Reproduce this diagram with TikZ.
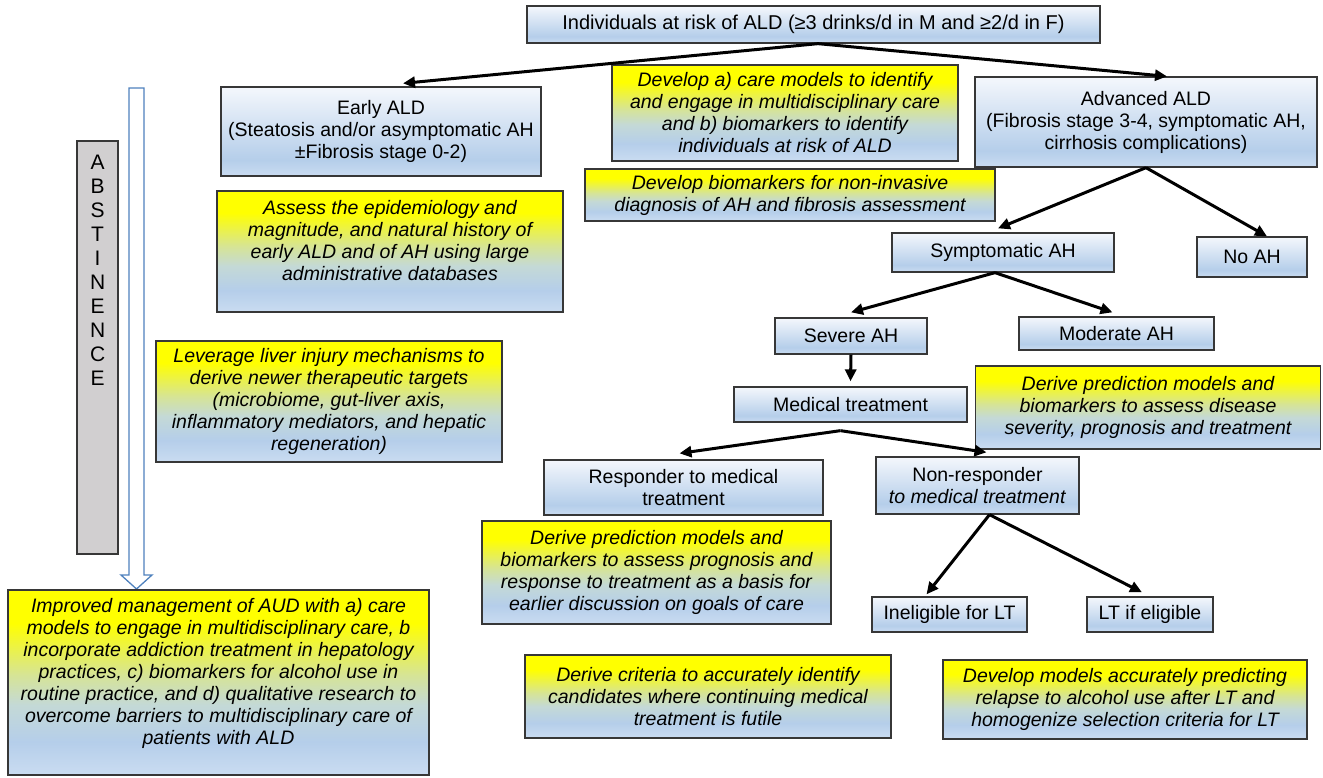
\documentclass[tikz,border=0pt]{standalone}
\usepackage{fontspec}
\setmainfont{Liberation Sans}
\usetikzlibrary{arrows.meta,calc}

\definecolor{bxtop}{RGB}{244,247,252}
\definecolor{bxmid}{RGB}{181,206,234}
\definecolor{bxlow}{RGB}{202,220,241}
\definecolor{ylwtop}{RGB}{255,255,0}
\definecolor{ylwmid}{RGB}{214,228,150}
\definecolor{ylwblu}{RGB}{196,217,214}
\definecolor{bordergray}{RGB}{55,55,55}
\definecolor{absgray}{RGB}{209,207,208}
\definecolor{hollowblue}{RGB}{79,129,189}

\pgfdeclareverticalshading{blueshade}{100bp}{color(0bp)=(bxlow); color(25bp)=(bxlow); color(34bp)=(bxmid); color(75bp)=(bxtop); color(100bp)=(bxtop)}
\pgfdeclareverticalshading{yellowshade}{100bp}{color(0bp)=(bxlow); color(25bp)=(bxlow); color(34bp)=(bxmid); color(44bp)=(ylwblu); color(52bp)=(ylwmid); color(66bp)=(ylwtop); color(100bp)=(ylwtop)}

\tikzset{
  box/.style={draw=bordergray, line width=1.3pt, shade, shading=blueshade,
    align=center, inner sep=2pt, font=\fontsize{19.5}{22}\selectfont},
  idea/.style={box, shading=yellowshade, font=\fontsize{19.5}{22}\selectfont\itshape},
  flow/.style={-{Triangle[length=12pt,width=11pt]}, line width=3pt},
}

\begin{document}
\begin{tikzpicture}[x=1pt,y=-1pt]
   \useasboundingbox (0,0) rectangle (1323,777);

   % abstinence column
   \node[draw=bordergray, line width=1.3pt, fill=absgray, minimum width=41, minimum height=413] (abst) at (97.5,347.5) {};
   \node[align=center, font=\fontsize{21}{24}\selectfont] (abstword) at (97.6,270) {A\\B\\S\\T\\I\\N\\E\\N\\C\\E};
   \draw[hollowblue, line width=1.3pt, fill=white] (129,88) -- (144,88) -- (144,575) -- (152,575)
        -- (136.5,589) -- (121,575) -- (129,575) -- cycle;

   % disease course
   \node[box, minimum width=573, minimum height=37, font=\fontsize{20}{22}\selectfont] (risk) at (813.5,24.5)
        {Individuals at risk of ALD (≥3 drinks/d in M and ≥2/d in F)};
   \node[box, minimum width=320, minimum height=89] (early) at (381,131.5)
        {Early ALD\\(Steatosis and/or asymptomatic AH\\±Fibrosis stage 0-2)};
   \node[box, minimum width=342, minimum height=90] (adv) at (1146,122)
        {Advanced ALD\\(Fibrosis stage 3-4, symptomatic AH,\\cirrhosis complications)};
   \node[box, minimum width=222, minimum height=39] (symp) at (1003,252.5) {Symptomatic AH};
   \node[box, minimum width=110, minimum height=40] (noah) at (1252,257) {No AH};
   \node[box, minimum width=152, minimum height=36] (severe) at (851,336) {Severe AH};
   \node[box, minimum width=195, minimum height=33] (moderate) at (1116.5,333.5) {Moderate AH};
   \node[box, minimum width=233, minimum height=35] (medical) at (850.5,404.5) {Medical treatment};
   \node[box, minimum width=279, minimum height=55] (responder) at (683.5,487.5)
        {Responder to medical\\treatment};
   \node[box, minimum width=203, minimum height=57] (nonresp) at (977.5,485.5)
        {Non-responder\\\textit{to medical treatment}};
   \node[box, minimum width=155, minimum height=35] (inelig) at (949.5,614.5) {Ineligible for LT};
   \node[box, minimum width=126, minimum height=35] (ltelig) at (1150,614.5) {LT if eligible};

   % research priorities
   \node[idea, minimum width=346, minimum height=96] (devcare) at (785,113)
        {Develop a) care models to identify\\and engage in multidisciplinary care\\and b) biomarkers to identify\\individuals at risk of ALD};
   \node[idea, minimum width=410, minimum height=52] (devbio) at (790,195)
        {Develop biomarkers for non-invasive\\diagnosis of AH and fibrosis assessment};
   \node[idea, minimum width=346, minimum height=121] (assess) at (390,251.5)
        {Assess the epidemiology and\\magnitude, and natural history of\\early ALD and of AH using large\\administrative databases\\\mbox{}};
   \node[idea, minimum width=346, minimum height=121] (leverage) at (329,401.5)
        {Leverage liver injury mechanisms to\\derive newer therapeutic targets\\(microbiome, gut-liver axis,\\inflammatory mediators, and hepatic\\regeneration)};
   \node[idea, minimum width=421, minimum height=185] (improved) at (218.5,682.5)
        {Improved management of AUD with a) care\\models to engage in multidisciplinary care, b\\incorporate addiction treatment in hepatology\\practices, c) biomarkers for alcohol use in\\routine practice, and d) qualitative research to\\overcome barriers to multidisciplinary care of\\patients with ALD\\\mbox{}};
   \node[idea, minimum width=345, minimum height=83] (sevpred) at (1148,407.5)
        {Derive prediction models and\\biomarkers to assess disease\\severity, prognosis and treatment};
   \node[idea, minimum width=349, minimum height=103] (progpred) at (656.5,572.5)
        {Derive prediction models and\\biomarkers to assess prognosis and\\response to treatment as a basis for\\earlier discussion on goals of care};
   \node[idea, minimum width=366, minimum height=83] (futile) at (708,696.5)
        {Derive criteria to accurately identify\\candidates where continuing medical\\treatment is futile};
   \node[idea, minimum width=364, minimum height=79] (relapse) at (1125,699.5)
        {Develop models accurately predicting\\relapse to alcohol use after LT and\\homogenize selection criteria for LT};

   % arrows
   \draw[flow] ([xshift=4.5pt]risk.south) -- ([xshift=22pt,yshift=3pt]early.north);
   \draw[flow] ([xshift=4.5pt]risk.south) -- ([xshift=21pt]adv.north);
   \draw[flow] (adv.south) -- ([xshift=-5pt,yshift=4pt]symp.north);
   \draw[flow] (adv.south) -- ([xshift=15pt]noah.north);
   \draw[flow] ([xshift=-8pt]symp.south) -- ([yshift=5pt]severe.north);
   \draw[flow] ([xshift=-8pt]symp.south) -- ([xshift=-4pt,yshift=4pt]moderate.north);
   \draw[flow] (severe.south) -- ([yshift=5pt]medical.north);
   \draw[flow] ([xshift=-10pt,yshift=-8pt]medical.south) -- ([xshift=-4pt,yshift=6pt]responder.north);
   \draw[flow] ([xshift=-10pt,yshift=-8pt]medical.south) -- ([xshift=9pt,yshift=4pt]nonresp.north);
   \draw[flow] ([xshift=12pt]nonresp.south) -- ([xshift=-23pt,yshift=2pt]inelig.north);
   \draw[flow] ([xshift=12pt]nonresp.south) -- ([xshift=-8pt,yshift=4pt]ltelig.north);
\end{tikzpicture}
\end{document}
